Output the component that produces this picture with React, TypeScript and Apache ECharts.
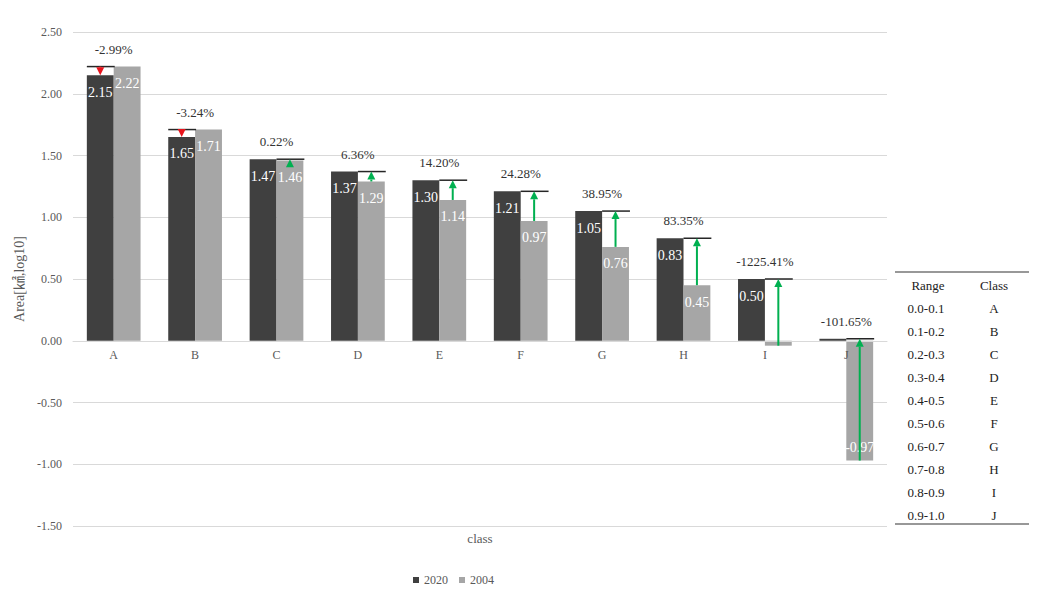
import React, { useEffect, useRef } from 'react';
import * as echarts from 'echarts';

const categories = ['A', 'B', 'C', 'D', 'E', 'F', 'G', 'H', 'I', 'J'];
const values2020 = [2.15, 1.65, 1.47, 1.37, 1.30, 1.21, 1.05, 0.83, 0.50, 0.016];
const values2004 = [2.22, 1.71, 1.46, 1.29, 1.14, 0.97, 0.76, 0.45, -0.04, -0.97];
const changeLabels = ['-2.99%', '-3.24%', '0.22%', '6.36%', '14.20%', '24.28%', '38.95%', '83.35%', '-1225.41%', '-101.65%'];
const tableRanges = ['0.0-0.1', '0.1-0.2', '0.2-0.3', '0.3-0.4', '0.4-0.5', '0.5-0.6', '0.6-0.7', '0.7-0.8', '0.8-0.9', '0.9-1.0'];
const tableClasses = ['A', 'B', 'C', 'D', 'E', 'F', 'G', 'H', 'I', 'J'];
const yMin = -1.5;
const yMax = 2.5;
const yInterval = 0.5;

const FONT = 'Liberation Serif, serif';
const NAME_FONT = 'Liberation Serif, Noto Sans CJK SC, serif';
const BAR_RATIO = 0.33;
const GRID_TOP = 32;
const GRID_BOTTOM = 67;
const CHART_H = 593;

export default function App() {
  const ref = useRef<HTMLDivElement>(null);
  useEffect(() => {
    document.body.style.margin = '0';
    const chart = echarts.init(ref.current!, null, { renderer: 'svg' });

    const gridH = CHART_H - GRID_TOP - GRID_BOTTOM;
    const zeroOffset = -((0 - yMin) / (yMax - yMin)) * gridH;

    const barLabel = (v: number) => ({
      show: Math.abs(v) >= 0.1,
      position: v < 0 ? 'insideBottom' : 'insideTop',
      distance: v < 0 ? 6 : 10,
      color: '#ffffff',
      fontSize: 14,
      fontFamily: FONT,
      formatter: () => v.toFixed(2),
    });

    const txt = (text: string, x: number, y: number, color = '#222', size = 13) => ({
      type: 'text', x, y,
      style: { text, fill: color, fontSize: size, fontFamily: FONT, align: 'center', verticalAlign: 'middle' },
    });

    const tableGraphics: any[] = [
      { type: 'line', shape: { x1: 895, y1: 272, x2: 1029, y2: 272 }, style: { stroke: '#333', lineWidth: 1.2 } },
      { type: 'line', shape: { x1: 895, y1: 524, x2: 1029, y2: 524 }, style: { stroke: '#333', lineWidth: 1.2 } },
      txt('Range', 928, 285),
      txt('Class', 994, 285),
    ];
    tableRanges.forEach((r, i) => {
      const y = 308 + i * 23;
      tableGraphics.push(txt(r, 926, y));
      tableGraphics.push(txt(tableClasses[i], 994, y));
    });

    const option: any = {
      animation: false,
      backgroundColor: '#ffffff',
      textStyle: { fontFamily: FONT },
      grid: { left: 73, right: 158, top: GRID_TOP, bottom: GRID_BOTTOM, containLabel: false },
      legend: {
        data: ['2020', '2004'],
        left: 408,
        top: 569,
        icon: 'rect',
        itemWidth: 6,
        itemHeight: 6,
        itemGap: 11,
        textStyle: { color: '#595959', fontSize: 12, fontFamily: FONT },
      },
      xAxis: {
        type: 'category',
        data: categories,
        position: 'bottom',
        offset: zeroOffset,
        z: 3,
        axisLine: { onZero: false, lineStyle: { color: '#d9d9d9' } },
        axisTick: { show: false },
        axisLabel: { color: '#595959', fontSize: 12, fontFamily: FONT, margin: 8 },
        splitLine: { show: false },
      },
      yAxis: {
        type: 'value',
        min: yMin,
        max: yMax,
        interval: yInterval,
        name: 'Area[㎢,log10]',
        nameLocation: 'middle',
        nameGap: 38,
        nameTextStyle: { color: '#595959', fontSize: 14, fontFamily: NAME_FONT },
        axisLine: { show: false },
        axisTick: { show: false },
        axisLabel: { color: '#595959', fontSize: 12, fontFamily: FONT, margin: 11, formatter: (v: number) => v.toFixed(2) },
        splitLine: { lineStyle: { color: '#d9d9d9', width: 1 } },
      },
      series: [
        {
          name: '2020',
          type: 'bar',
          barWidth: `${BAR_RATIO * 100}%`,
          barGap: '0%',
          itemStyle: { color: '#404040' },
          data: values2020.map((v) => ({ value: v, label: barLabel(v) })),
        },
        {
          name: '2004',
          type: 'bar',
          barWidth: `${BAR_RATIO * 100}%`,
          barGap: '0%',
          itemStyle: { color: '#a6a6a6' },
          data: values2004.map((v) => ({ value: v, label: barLabel(v) })),
        },
        {
          name: 'change',
          type: 'custom',
          z: 10,
          encode: { x: 0, y: [1, 2] },
          data: categories.map((_, i) => [i, values2020[i], values2004[i]]),
          renderItem: (params: any, api: any) => {
            const idx = api.value(0) as number;
            const a = api.value(1) as number;
            const b = api.value(2) as number;
            const c = api.coord([idx, 0]);
            const band = api.size([1, 0])[0];
            const bw = band * BAR_RATIO;
            const up = a >= b;
            const xl = up ? c[0] : c[0] - bw;
            const xr = xl + bw;
            const xm = (xl + xr) / 2;
            const yCap = api.coord([idx, Math.max(a, b)])[1];
            const yFrom = api.coord([idx, b])[1];
            const yTo = api.coord([idx, a])[1];
            const color = up ? '#00b050' : '#e8141c';
            const head = 8;
            const hw = 4;
            const baseY = up ? yTo + head : yTo - head;
            const children: any[] = [
              { type: 'line', shape: { x1: xl, y1: yCap, x2: xr + 1, y2: yCap }, style: { stroke: '#262626', lineWidth: 1.5 } },
            ];
            if ((up && yFrom > baseY) || (!up && yFrom < baseY)) {
              children.push({ type: 'line', shape: { x1: xm, y1: yFrom, x2: xm, y2: baseY }, style: { stroke: color, lineWidth: 2 } });
            }
            children.push({ type: 'polygon', shape: { points: [[xm, yTo], [xm - hw, baseY], [xm + hw, baseY]] }, style: { fill: color } });
            const yText = api.coord([idx, Math.max(a, b, 0)])[1] - 17.5;
            children.push({
              type: 'text',
              x: c[0],
              y: yText,
              style: { text: changeLabels[idx], fill: '#333333', fontSize: 13, fontFamily: FONT, align: 'center', verticalAlign: 'middle' },
            });
            return { type: 'group', children };
          },
        },
      ],
      graphic: [
        txt('class', 480, 538, '#595959', 13),
        ...tableGraphics,
      ],
    };
    chart.setOption(option);
    return () => chart.dispose();
  }, []);
  return <div ref={ref} style={{ position: 'absolute', left: 0, top: 0, width: 1045, height: 593 }} />;
}
